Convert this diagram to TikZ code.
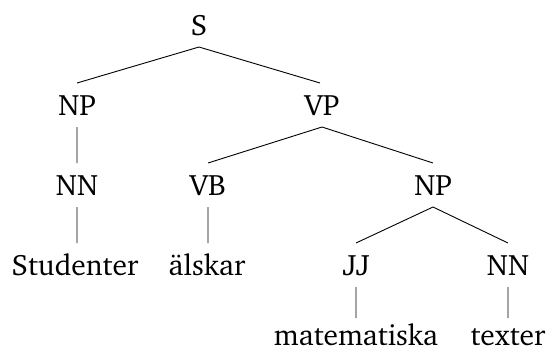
\documentclass[tikz,border=0pt]{standalone}
\usepackage[T1]{fontenc}
\usepackage{charter}
\begin{document}
\begin{tikzpicture}[x=1pt,y=-1pt,
  lbl/.style={inner sep=0pt,anchor=base,font=\fontsize{29.5}{35}\selectfont},
  edge/.style={draw=black,line width=0.9pt}]
\useasboundingbox (0,0) rectangle (548,354);
\node[lbl] (S) at (199,35) {S};
\node[lbl] (NP1) at (77,115) {NP};
\node[lbl] (VP) at (322,115) {VP};
\node[lbl] (NN1) at (77,195) {NN};
\node[lbl] (VB) at (208,195) {VB};
\node[lbl] (NP2) at (433,195) {NP};
\node[lbl] (w1) at (75,275) {Studenter};
\node[lbl] (w2) at (207,275) {älskar};
\node[lbl] (JJ) at (356,275) {JJ};
\node[lbl] (NN2) at (508,275) {NN};
\node[lbl] (w3) at (356,345) {matematiska};
\node[lbl] (w4) at (508,345) {texter};
\coordinate (sS) at (199,47);
\coordinate (tNP1) at (77,83); \coordinate (sNP1) at (77,127);
\coordinate (tVP) at (320,83); \coordinate (sVP) at (322,127);
\coordinate (tNN1) at (77,163); \coordinate (sNN1) at (77,207);
\coordinate (tVB) at (208,163); \coordinate (sVB) at (208,207);
\coordinate (tNP2) at (433,163); \coordinate (sNP2) at (433,207);
\coordinate (tw1) at (77,243); \coordinate (tw2) at (208,243);
\coordinate (tJJ) at (356,243); \coordinate (sJJ) at (356,287);
\coordinate (tNN2) at (508,243); \coordinate (sNN2) at (508,287);
\coordinate (tw3) at (356,318); \coordinate (tw4) at (508,318);
\path[edge] (sS) -- (tNP1) (sS) -- (tVP)
  (sNP1) -- (tNN1) (sVP) -- (tVB) (sVP) -- (tNP2)
  (sNN1) -- (tw1) (sVB) -- (tw2)
  (sNP2) -- (tJJ) (sNP2) -- (tNN2)
  (sJJ) -- (tw3) (sNN2) -- (tw4);
\end{tikzpicture}
\end{document}
